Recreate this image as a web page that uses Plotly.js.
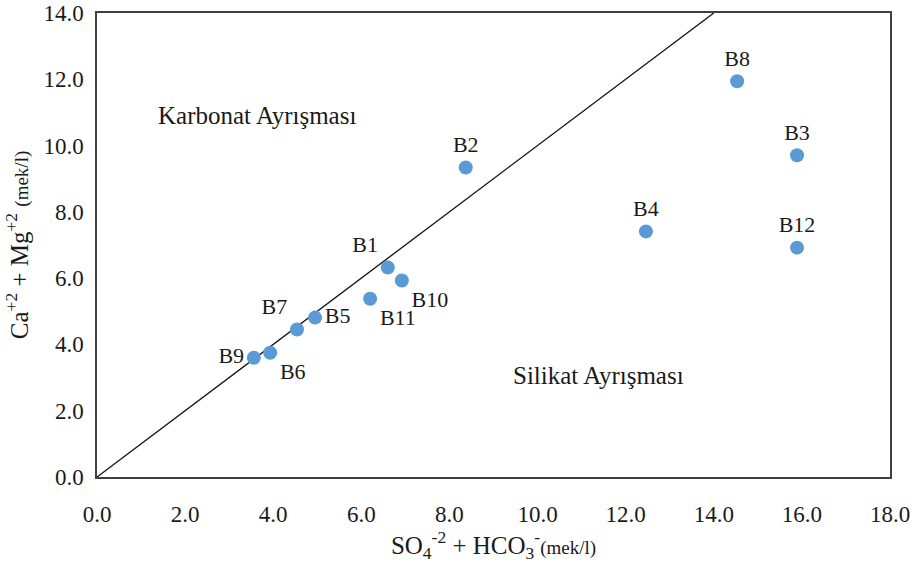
<!DOCTYPE html>
<html>
<head>
<meta charset="utf-8">
<script src="https://cdn.plot.ly/plotly-3.0.1.min.js"></script>
<style>html,body{margin:0;padding:0;background:#fff;}#chart{width:914px;height:566px;}</style>
</head>
<body>
<div id="chart"></div>
<script>
// Data
const wells = ["B1","B2","B3","B4","B5","B6","B7","B8","B9","B10","B11","B12"];
const so4hco3 = [6.60, 8.37, 15.89, 12.46, 4.95, 3.93, 4.54, 14.53, 3.56, 6.92, 6.20, 15.89];
const camg    = [6.32, 9.34, 9.71, 7.41, 4.81, 3.75, 4.45, 11.94, 3.60, 5.93, 5.38, 6.92];
const labelPos = ["top left","top center","top center","top center","middle right","bottom right",
                  "top left","top center","middle left","bottom right","bottom right","top center"];
const refLineX = [0, 14];
const refLineY = [0, 14];
const xTicks = [0, 2, 4, 6, 8, 10, 12, 14, 16, 18];
const yTicks = [0, 2, 4, 6, 8, 10, 12, 14];
const xTickText = ["0.0","2.0","4.0","6.0","8.0","10.0","12.0","14.0","16.0","18.0"];
const yTickText = ["0.0","2.0","4.0","6.0","8.0","10.0","12.0","14.0"];

const serif = "Liberation Serif";

const traces = [
  {
    x: refLineX, y: refLineY, mode: "lines", type: "scatter",
    line: {color: "#111111", width: 1.3}, hoverinfo: "skip", showlegend: false
  },
  {
    x: so4hco3, y: camg, text: wells, mode: "markers+text", type: "scatter",
    textposition: labelPos,
    textfont: {family: serif, size: 22, color: "#1a1a1a"},
    marker: {color: "#5b9bd5", size: 14, line: {width: 0}},
    showlegend: false
  }
];

const layout = {
  width: 914, height: 566,
  margin: {l: 97, r: 24, t: 13, b: 89},
  paper_bgcolor: "#ffffff", plot_bgcolor: "#ffffff",
  showlegend: false,
  font: {family: serif, color: "#1a1a1a", size: 22},
  xaxis: {
    range: [0, 18], tickmode: "array", tickvals: xTicks, ticktext: xTickText,
    showgrid: false, zeroline: false,
    showline: true, mirror: true, linecolor: "#404040", linewidth: 1.6,
    ticks: "", ticklabelstandoff: 16,
    tickfont: {family: serif, size: 23, color: "#1a1a1a"},
    title: {
      text: "SO<sub>4</sub><sup>-2</sup> + HCO<sub>3</sub><sup>-</sup><span style='font-size:19px'>(mek/l)</span>",
      font: {family: serif, size: 25, color: "#1a1a1a"}, standoff: 10
    }
  },
  yaxis: {
    range: [0, 14], tickmode: "array", tickvals: yTicks, ticktext: yTickText,
    showgrid: false, zeroline: false,
    showline: true, mirror: true, linecolor: "#404040", linewidth: 1.6,
    ticks: "", ticklabelstandoff: 7,
    tickfont: {family: serif, size: 23, color: "#1a1a1a"},
    title: {
      text: "Ca<sup>+2</sup> + Mg<sup>+2</sup> <span style='font-size:19px'>(mek/l)</span>",
      font: {family: serif, size: 25, color: "#1a1a1a"}, standoff: 8
    }
  },
  annotations: [
    {x: 3.63, y: 10.92, xref: "x", yref: "y", text: "Karbonat Ayrışması", showarrow: false,
     font: {family: serif, size: 25, color: "#1a1a1a"}},
    {x: 11.39, y: 3.05, xref: "x", yref: "y", text: "Silikat Ayrışması", showarrow: false,
     font: {family: serif, size: 25, color: "#1a1a1a"}}
  ]
};

Plotly.newPlot("chart", traces, layout, {displayModeBar: false, staticPlot: true});
</script>
</body>
</html>
